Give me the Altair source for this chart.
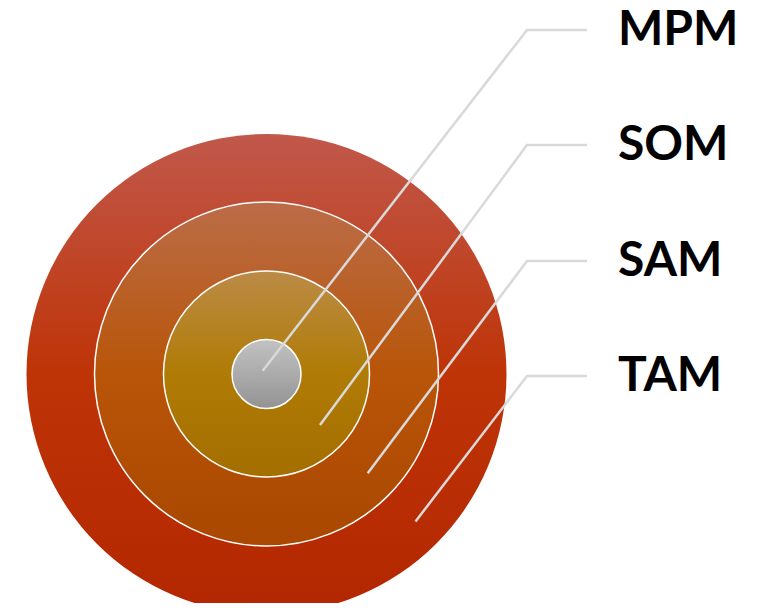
import math
import altair as alt
import pandas as pd

# ---- data ----
names = ["TAM", "SAM", "SOM", "MPM"]
radii = [240, 172, 103, 34.5]          # relative market sizes (drawn as circle radii)
center_x = [266.5, 266.5, 266.5, 266.5]
center_y = [374, 374, 374, 374]

# leader lines: anchor point inside each ring -> elbow -> label
anchor_x = [415.5, 367.7, 320.0, 262.7]
anchor_y = [521.5, 473.3, 425.0, 370.7]
label_y = [376, 261, 145, 30]
elbow_x = [527, 527, 527, 527]
line_end_x = [587, 587, 587, 587]
label_x = [618, 618, 618, 618]

grad_top = ["#c1584b", "#bb6c48", "#bb8b47", "#c2c2c2"]
grad_mid = ["#be3407", "#b85508", "#b07b05", "#ababab"]
grad_bot = ["#b32700", "#aa4700", "#a46e00", "#939393"]
strokes = [0, 1.5, 1.5, 1.5]

W, H = 743, 595
xs = alt.Scale(domain=[8, 8 + W], range=[0, W])
ys = alt.Scale(domain=[8, 8 + H], range=[0, H])
rs = alt.Scale(type="linear", domain=[0, W], range=[0, W])

circles = pd.DataFrame({"name": names, "r": radii, "cx": center_x, "cy": center_y})

layers = []
for i, n in enumerate(names):
    grad = alt.Gradient(
        gradient="linear", x1=0, y1=0, x2=0, y2=1,
        stops=[alt.GradientStop(color=grad_top[i], offset=0),
               alt.GradientStop(color=grad_mid[i], offset=0.5),
               alt.GradientStop(color=grad_bot[i], offset=1)])
    kw = dict(theta=0, theta2=2 * math.pi, fill=grad)
    if strokes[i] > 0:
        kw.update(stroke="white", strokeWidth=strokes[i])
    else:
        kw.update(strokeWidth=0)
    layers.append(
        alt.Chart(circles).transform_filter(alt.datum.name == n).mark_arc(**kw).encode(
            x=alt.X("cx:Q", scale=xs, axis=None),
            y=alt.Y("cy:Q", scale=ys, axis=None),
            radius=alt.Radius("r:Q", scale=rs),
        )
    )

rows = []
for i, n in enumerate(names):
    rows.append({"name": n, "k": 0, "x": anchor_x[i], "y": anchor_y[i]})
    rows.append({"name": n, "k": 1, "x": elbow_x[i], "y": label_y[i]})
    rows.append({"name": n, "k": 2, "x": line_end_x[i], "y": label_y[i]})
leaders = pd.DataFrame(rows)

lines = alt.Chart(leaders).mark_line(color="#d9d9d9", strokeWidth=2.5).encode(
    x=alt.X("x:Q", scale=xs, axis=None),
    y=alt.Y("y:Q", scale=ys, axis=None),
    detail="name:N",
    order="k:Q",
)

labels = pd.DataFrame({"name": names, "x": label_x, "y": label_y})
text = alt.Chart(labels).mark_text(
    align="left", baseline="middle", font="Lato", fontWeight="bold",
    fontSize=48, color="black", dy=1,
).encode(
    x=alt.X("x:Q", scale=xs, axis=None),
    y=alt.Y("y:Q", scale=ys, axis=None),
    text="name:N",
)

chart = alt.layer(*layers, lines, text).properties(
    width=W, height=H, padding=0, autosize=alt.AutoSizeParams(type="none")
).configure_view(stroke=None)

chart.save("out.html", embed_options={"renderer": "svg", "actions": False})
